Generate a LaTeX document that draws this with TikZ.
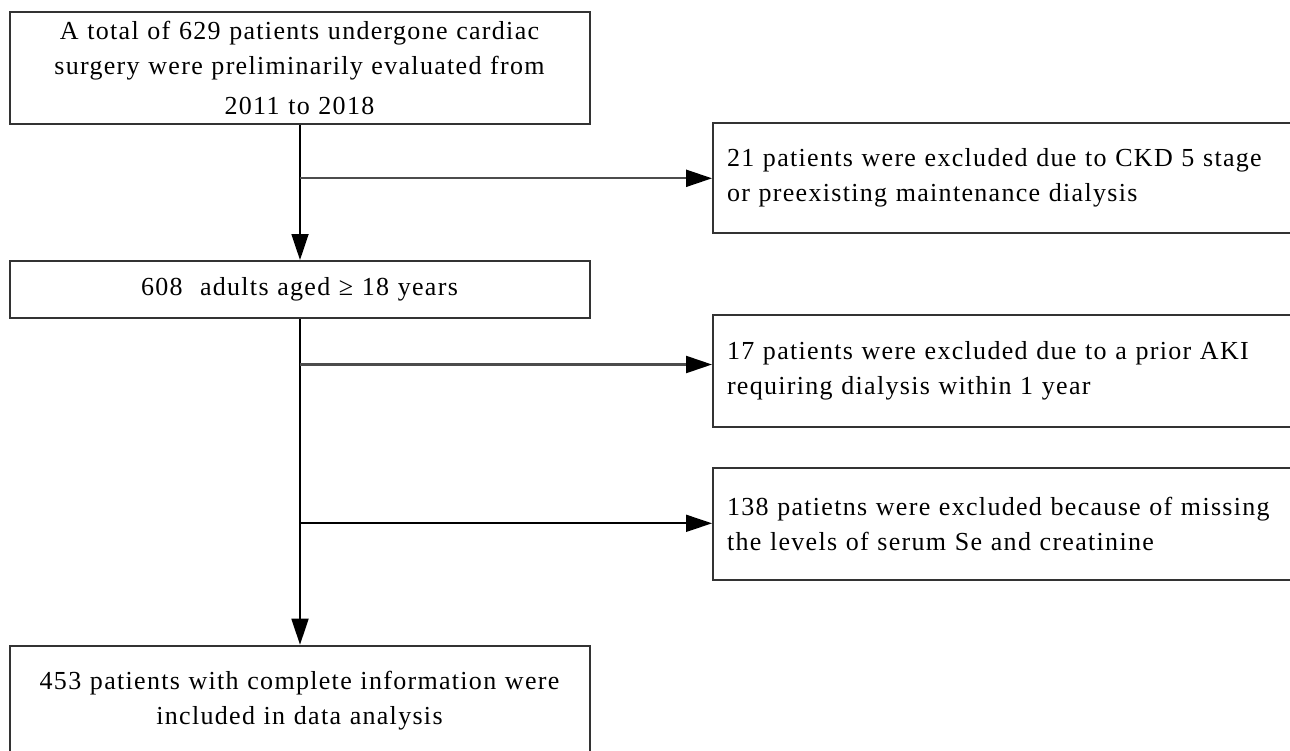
\documentclass[tikz,border=0pt]{standalone}
\usepackage{fontspec}
\setmainfont{Liberation Serif}[LetterSpace=5]
\usetikzlibrary{arrows.meta}
\begin{document}
\begin{tikzpicture}[x=1pt,y=-1pt,
  every node/.style={font=\fontsize{26}{35}\selectfont},
  mainbox/.style={draw=black!80, line width=2pt, minimum width=580pt, inner sep=0pt, text width=570pt, align=center},
  exbox/.style={draw=black!80, line width=2pt, minimum width=700pt, inner xsep=14pt, inner ysep=0pt, text width=672pt, align=left},
  flow/.style={draw=black, line width=1.8pt, -{Triangle[length=26pt,width=17pt,color=black]}}
]
\clip (0,0) rectangle (1290,750);
\fill[white] (0,0) rectangle (1290,750);
\node[mainbox, minimum height=112pt] (top) at (299.5,68) {A total of 629 patients undergone cardiac\\ surgery were preliminarily evaluated from\\[5pt] 2011 to 2018};
\node[mainbox, minimum height=57pt] (adults) at (299.5,289.5) {608\ \ adults aged ≥ 18 years};
\node[mainbox, minimum height=110.6pt] (final) at (299.5,701) {453 patients with complete information were\\ included in data analysis};
\node[exbox, minimum height=110.6pt] (e1) at (1063,178) {21 patients were excluded due to CKD 5 stage\\ or preexisting maintenance dialysis};
\node[exbox, minimum height=111.7pt] (e2) at (1063,370.8) {17 patients were excluded due to a prior AKI\\ requiring dialysis within 1 year};
\node[exbox, minimum height=112.3pt] (e3) at (1063,523.8) {138 patietns were excluded because of missing\\ the levels of serum Se and creatinine};
\coordinate (b1) at (300,178.3);
\coordinate (b2) at (300,364.5);
\coordinate (b3) at (300,523.3);
\draw[flow] (top.south -| b1) -- (adults.north -| b1);
\draw[flow] (adults.south -| b1) -- (final.north -| b1);
\draw[flow, draw=black!70, line width=2.2pt] (b1) -- (b1 -| e1.west);
\draw[flow, draw=black!70, line width=2.2pt] (b2) -- (b2 -| e2.west);
\draw[flow] (b3) -- (b3 -| e3.west);
\end{tikzpicture}
\end{document}
